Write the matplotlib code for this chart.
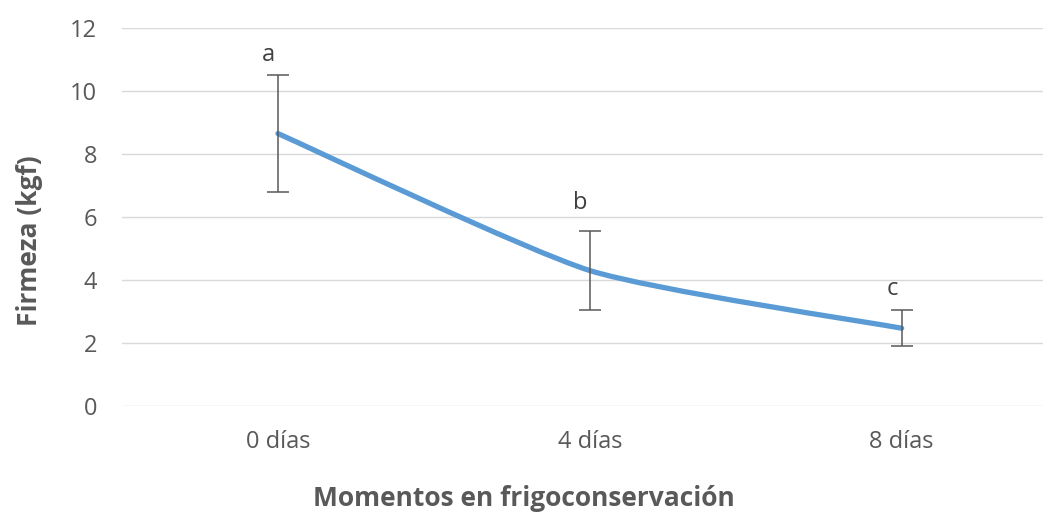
import matplotlib
matplotlib.use("Agg")
import matplotlib.pyplot as plt
from matplotlib.path import Path
from matplotlib.patches import PathPatch
import numpy as np

categories = ["0 días", "4 días", "8 días"]
firmeza = [8.65, 4.3, 2.47]
errores = [1.85, 1.26, 0.57]
letras = ["a", "b", "c"]
letra_y = [11.15, 6.45, 3.7]
yticks = [0, 2, 4, 6, 8, 10, 12]

plt.rcParams['font.family'] = ['Open Sans', 'DejaVu Sans']
gray = "#595959"

fig = plt.figure(figsize=(10.43, 5.17), dpi=100)
ax = fig.add_axes([0.117, 0.2147, 0.897, 0.7311])

x = np.arange(len(categories))
# lightly smoothed line, Excel style
pts = np.column_stack([x, firmeza]).astype(float)
verts = [tuple(pts[0])]
codes = [Path.MOVETO]
n = len(pts)
k = 10.0
for i in range(n - 1):
    p0 = pts[i - 1] if i > 0 else pts[i]
    p1 = pts[i]
    p2 = pts[i + 1]
    p3 = pts[i + 2] if i + 2 < n else pts[i + 1]
    c1 = p1 + (p2 - p0) / k
    c2 = p2 - (p3 - p1) / k
    verts += [tuple(c1), tuple(c2), tuple(p2)]
    codes += [Path.CURVE4] * 3
patch = PathPatch(Path(verts, codes), facecolor="none", edgecolor="#5B9BD5",
                  lw=3.8, capstyle="round", joinstyle="round", zorder=3)
ax.add_patch(patch)

ax.errorbar(x, firmeza, yerr=errores, fmt="none", ecolor=gray, elinewidth=1.1,
            capsize=8, capthick=1.1, zorder=4)

for xi, (l, ly) in enumerate(zip(letras, letra_y)):
    ax.text(xi - 0.03, ly, l, ha="center", va="center", fontsize=17, color="#404040")

ax.set_xlim(-0.5, 2.5)
ax.set_ylim(0, 12)
ax.set_yticks(yticks)
ax.set_xticks(x)
ax.set_xticklabels(categories)
ax.grid(axis="y", color="#D9D9D9", lw=1)
ax.set_axisbelow(True)
for s in ax.spines.values():
    s.set_visible(False)
ax.tick_params(axis="both", length=0, labelsize=17, labelcolor=gray)
ax.tick_params(axis="x", pad=17)
ax.tick_params(axis="y", pad=18)

fig.text(0.028, 0.535, "Firmeza (kgf)", rotation=90, ha="center", va="center",
         fontsize=19, fontweight="bold", color=gray)
fig.text(0.502, 0.035, "Momentos en frigoconservación", ha="center", va="center",
         fontsize=19, fontweight="bold", color=gray)

fig.savefig("out.png", dpi=100)
